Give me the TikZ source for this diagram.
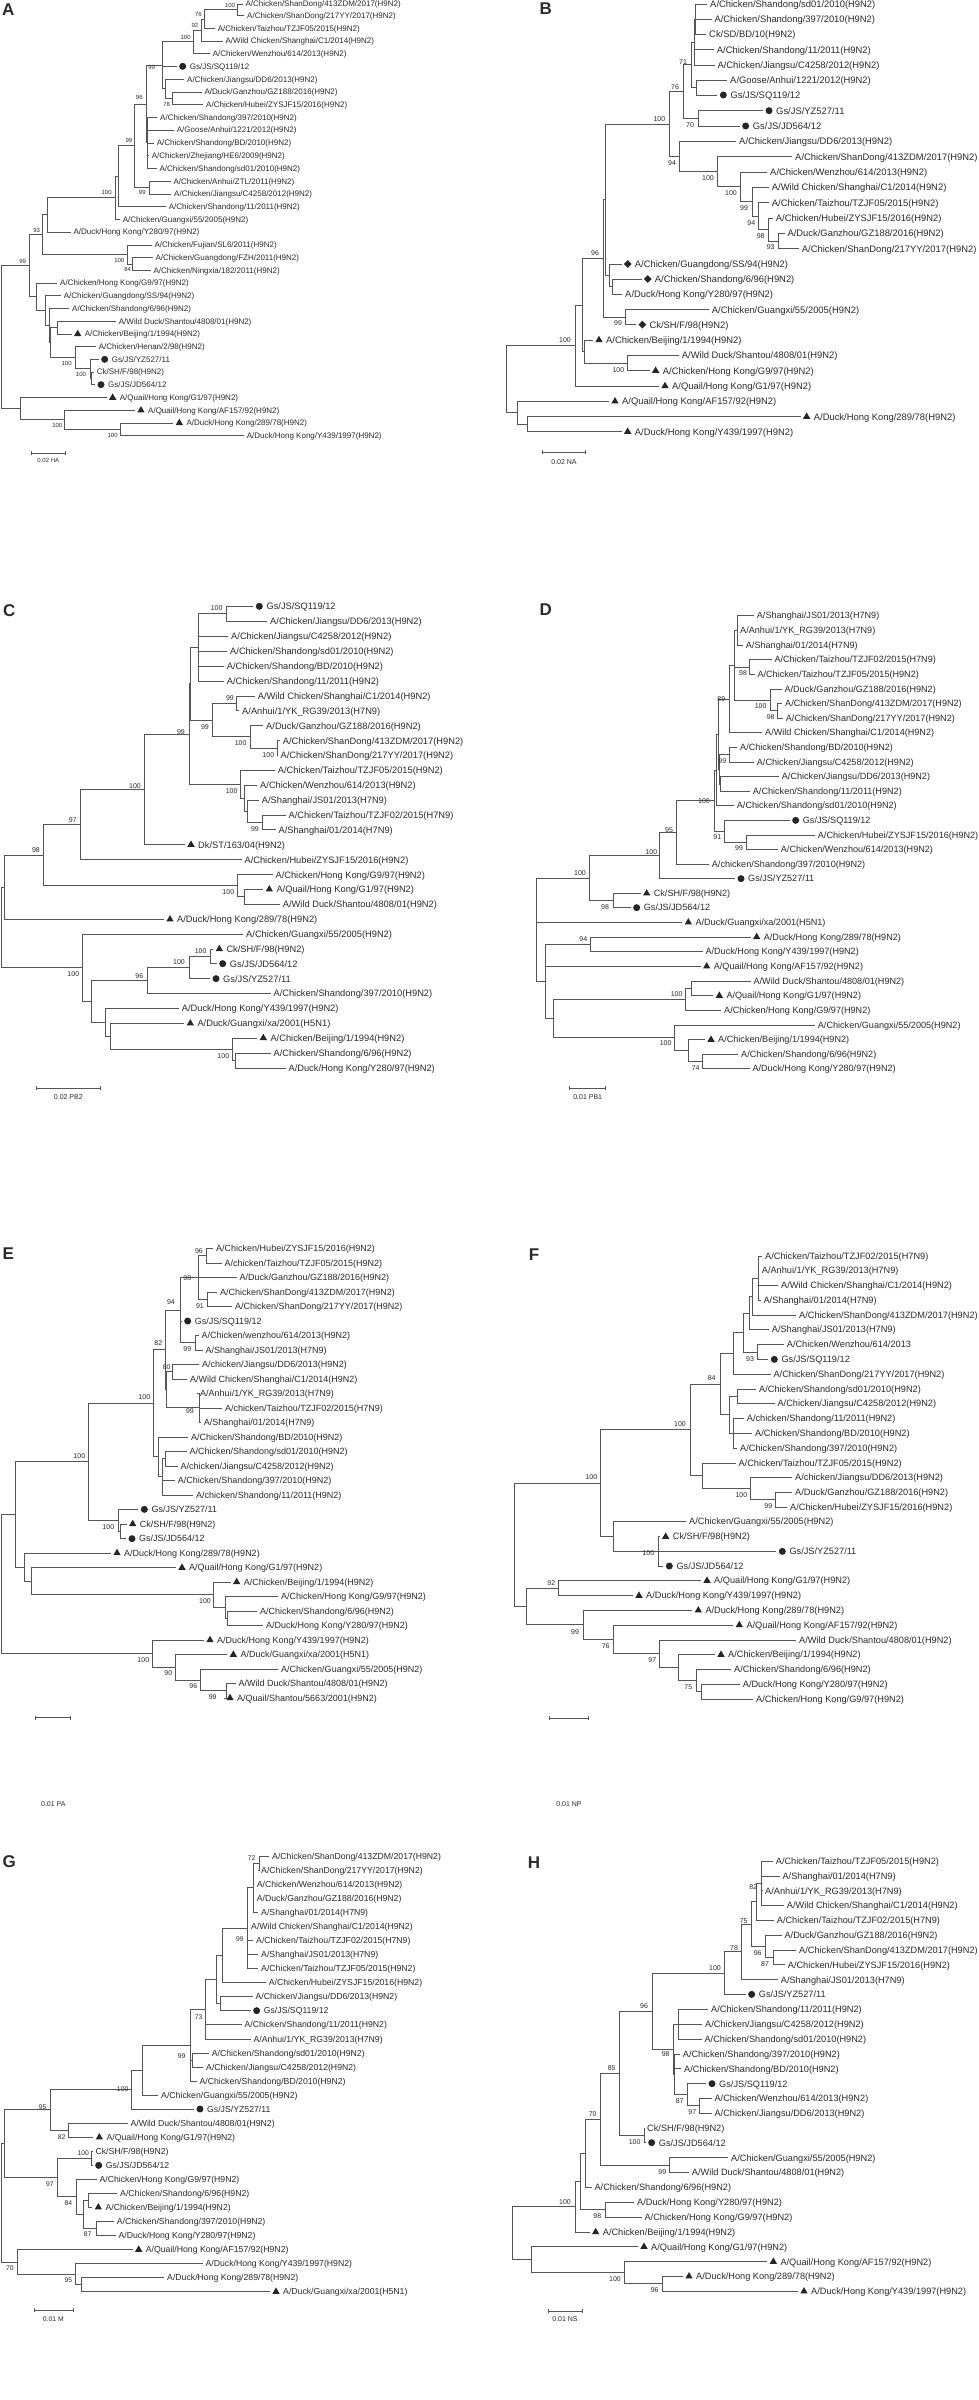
\documentclass[tikz,border=0pt]{standalone}
\usepackage{fontspec}
\setmainfont{Liberation Sans}
\usetikzlibrary{shapes.geometric}
\definecolor{txtc}{HTML}{2B2B2B}
\definecolor{lnc}{HTML}{555555}
\definecolor{mkcol}{HTML}{262626}
\newcounter{bsn}
\newcommand\PanelFonts[2]{\tikzset{
  lab/.style={anchor=base west,inner sep=0pt,text=txtc,font=\fontsize{#1pt}{#1pt}\selectfont,yshift=-0.36*#1pt},
  bsl/.style={inner sep=0pt,text=txtc,font=\fontsize{#2pt}{#2pt}\selectfont}}}
\newcommand\Lf[4]{\coordinate (#1) at (#2,#3); \node[lab] (#1t) at ([xshift=2.7pt]#1) {#4};}
\newcommand\Lfc[4]{\coordinate (#1) at (#2,#3); \node[mkc] (#1m) at ([xshift=6pt]#1) {}; \node[lab] (#1t) at ([xshift=13pt]#1) {#4};}
\newcommand\Lft[4]{\coordinate (#1) at (#2,#3); \node[mkt] (#1m) at ([xshift=6pt]#1) {}; \node[lab] (#1t) at ([xshift=13pt]#1) {#4};}
\newcommand\Lfd[4]{\coordinate (#1) at (#2,#3); \node[mkd] (#1m) at ([xshift=6pt]#1) {}; \node[lab] (#1t) at ([xshift=13pt]#1) {#4};}
\newcommand\Nd[3]{\coordinate (#1) at (#2,#3);}
\newcommand\Br[2]{\foreach \kid in {#2}{\draw[brn] (#1) |- (\kid);}}
\newcommand\Bs[3]{\stepcounter{bsn}\node[bsl] (bs\arabic{bsn}) at (#1,#2) {#3};}
\newcommand\Sb[7]{\coordinate (#1s1) at (#2,#4); \coordinate (#1s2) at (#3,#4);
  \draw[brn] (#1s1) -- (#1s2);
  \draw[brn] ([yshift=2pt]#1s1) -- ([yshift=-2pt]#1s1);
  \draw[brn] ([yshift=2pt]#1s2) -- ([yshift=-2pt]#1s2);
  \node[bsl] (#1sl) at (#5,#6) {#7};}
\tikzset{
  brn/.style={draw=lnc,line width=0.9pt},
  mkc/.style={circle,fill=mkcol,inner sep=0pt,minimum size=7pt},
  mkt/.style={regular polygon,regular polygon sides=3,fill=mkcol,inner sep=0pt,minimum size=8.5pt},
  mkd/.style={diamond,fill=mkcol,inner sep=0pt,minimum size=8pt},
  plet/.style={inner sep=0pt,text=txtc,font=\fontsize{17pt}{17pt}\selectfont\bfseries}}
\begin{document}
\begin{tikzpicture}
\fill[white] (0pt,0pt) rectangle (978pt,-2400pt);
\useasboundingbox (0pt,0pt) rectangle (978pt,-2400pt);
%%%%%%%%%%%%%%%%% A
\begin{scope}[x=0.33333pt,y=-0.33333pt]
\PanelFonts{8}{6}
\node[plet] (aLet) at (25,28) {A};
\Lf{a1}{728}{12}{A/Chicken/ShanDong/413ZDM/2017(H9N2)}
\Lf{a2}{733}{47}{A/Chicken/ShanDong/217YY/2017(H9N2)}
\Lf{a3}{645}{85}{A/Chicken/Taizhou/TZJF05/2015(H9N2)}
\Lf{a4}{668}{123}{A/Wild Chicken/Shanghai/C1/2014(H9N2)}
\Lf{a5}{630}{161}{A/Chicken/Wenzhou/614/2013(H9N2)}
\Lfc{a6}{530}{199}{Gs/JS/SQ119/12}
\Lf{a7}{553}{238}{A/Chicken/Jiangsu/DD6/2013(H9N2)}
\Lf{a8}{605}{276}{A/Duck/Ganzhou/GZ188/2016(H9N2)}
\Lf{a9}{610}{314}{A/Chicken/Hubei/ZYSJF15/2016(H9N2)}
\Lf{a10}{472}{352}{A/Chicken/Shandong/397/2010(H9N2)}
\Lf{a11}{522}{390}{A/Goose/Anhui/1221/2012(H9N2)}
\Lf{a12}{462}{429}{A/Chicken/Shandong/BD/2010(H9N2)}
\Lf{a13}{447}{467}{A/Chicken/Zhejiang/HE6/2009(H9N2)}
\Lf{a14}{470}{505}{A/Chicken/Shandong/sd01/2010(H9N2)}
\Lf{a15}{512}{544}{A/Chicken/Anhui/ZTL/2011(H9N2)}
\Lf{a16}{514}{582}{A/Chicken/Jiangsu/C4258/2012(H9N2)}
\Lf{a17}{498}{620}{A/Chicken/Shandong/11/2011(H9N2)}
\Lf{a18}{360}{658}{A/Chicken/Guangxi/55/2005(H9N2)}
\Lf{a19}{212}{696}{A/Duck/Hong Kong/Y280/97(H9N2)}
\Lf{a20}{455}{735}{A/Chicken/Fujian/SL6/2011(H9N2)}
\Lf{a21}{458}{773}{A/Chicken/Guangdong/FZH/2011(H9N2)}
\Lf{a22}{452}{811}{A/Chicken/Ningxia/182/2011(H9N2)}
\Lf{a23}{172}{849}{A/Chicken/Hong Kong/G9/97(H9N2)}
\Lf{a24}{183}{887}{A/Chicken/Guangdong/SS/94(H9N2)}
\Lf{a25}{208}{925}{A/Chicken/Shandong/6/96(H9N2)}
\Lf{a26}{348}{964}{A/Wild Duck/Shantou/4808/01(H9N2)}
\Lft{a27}{215}{1002}{A/Chicken/Beijing/1/1994(H9N2)}
\Lf{a28}{288}{1040}{A/Chicken/Henan/2/98(H9N2)}
\Lfc{a29}{296}{1078}{Gs/JS/YZ527/11}
\Lf{a30}{282}{1116}{Ck/SH/F/98(H9N2)}
\Lfc{a31}{285}{1154}{Gs/JS/JD564/12}
\Lft{a32}{320}{1193}{A/Quail/Hong Kong/G1/97(H9N2)}
\Lft{a33}{405}{1231}{A/Quail/Hong Kong/AF157/92(H9N2)}
\Lft{a34}{520}{1269}{A/Duck/Hong Kong/289/78(H9N2)}
\Lf{a35}{732}{1307}{A/Duck/Hong Kong/Y439/1997(H9N2)}
\Nd{aA}{712}{29.5} \Br{aA}{a1,a2}
\Nd{aB}{612}{57} \Br{aB}{aA,a3}
\Nd{aC}{603}{90} \Br{aC}{aB,a4}
\Nd{aD}{580}{125.5} \Br{aD}{aC,a5}
\Nd{aE}{518}{295} \Br{aE}{a8,a9}
\Nd{aF}{497}{266.5} \Br{aF}{a7,aE}
\Nd{aG}{487}{196} \Br{aG}{aD,a6,aF}
\Nd{aH}{442}{428.5} \Br{aH}{a10,a11,a12,a13,a14}
\Nd{aI}{440}{312} \Br{aI}{aG,aH}
\Nd{aJ}{447}{563} \Br{aJ}{a15,a16}
\Nd{aK}{403}{437.5} \Br{aK}{aI,aJ}
\Nd{aL}{355}{528.75} \Br{aL}{aK,a17}
\Nd{aM}{345}{593.4} \Br{aM}{aL,a18}
\Nd{aN}{143}{644.7} \Br{aN}{aM,a19}
\Nd{aO}{398}{792} \Br{aO}{a21,a22}
\Nd{aP}{383}{763.5} \Br{aP}{a20,aO}
\Nd{aQ}{128}{704} \Br{aQ}{aN,aP}
\Nd{aR}{172}{983} \Br{aR}{a26,a27}
\Nd{aS}{275}{1135} \Br{aS}{a30,a31}
\Nd{aT}{270}{1106.5} \Br{aT}{a29,aS}
\Nd{aU}{225}{1073} \Br{aU}{a28,aT}
\Nd{aV}{152}{1028} \Br{aV}{aR,aU}
\Nd{aW}{147}{976.5} \Br{aW}{a25,aV}
\Nd{aX}{135}{931.7} \Br{aX}{a24,aW}
\Nd{aY}{108}{890} \Br{aY}{a23,aX}
\Nd{aZ}{88}{797} \Br{aZ}{aQ,aY}
\Nd{ab}{362}{1288} \Br{ab}{a34,a35}
\Nd{ac}{193}{1259.5} \Br{ac}{a33,ab}
\Nd{ad}{62}{1226} \Br{ad}{a32,ac}
\Nd{ar}{5}{1011} \Br{ar}{aZ,ad}
\Bs{690}{15}{100} \Bs{595}{43}{76} \Bs{585}{77}{92} \Bs{557}{112}{100}
\Bs{455}{203}{99} \Bs{500}{312}{78} \Bs{418}{293}{96} \Bs{387}{421}{99}
\Bs{427}{578}{99} \Bs{320}{578}{100} \Bs{110}{690}{93} \Bs{358}{780}{100}
\Bs{383}{808}{84} \Bs{68}{785}{99} \Bs{200}{1090}{100} \Bs{243}{1124}{100}
\Bs{172}{1277}{100} \Bs{338}{1305}{100}
\Sb{a}{93}{197}{1360}{145}{1382}{0.02 HA}
\end{scope}
%%%%%%%%%%%%%%%%% B
\begin{scope}[shift={(489pt,0pt)},x=0.33333pt,y=-0.33333pt]
\PanelFonts{9.4}{7}
\node[plet] (bLet) at (170,25) {B};
\Lf{b1}{655}{12}{A/Chicken/Shandong/sd01/2010(H9N2)}
\Lf{b2}{668}{57}{A/Chicken/Shandong/397/2010(H9N2)}
\Lf{b3}{652}{103}{Ck/SD/BD/10(H9N2)}
\Lf{b4}{675}{149}{A/Chicken/Shandong/11/2011(H9N2)}
\Lf{b5}{677}{195}{A/Chicken/Jiangsu/C4258/2012(H9N2)}
\Lf{b6}{715}{241}{A/Goose/Anhui/1221/2012(H9N2)}
\Lfc{b7}{685}{285}{Gs/JS/SQ119/12}
\Lfc{b8}{822}{332}{Gs/JS/YZ527/11}
\Lfc{b9}{752}{378}{Gs/JS/JD564/12}
\Lf{b10}{742}{424}{A/Chicken/Jiangsu/DD6/2013(H9N2)}
\Lf{b11}{910}{470}{A/Chicken/ShanDong/413ZDM/2017(H9N2)}
\Lf{b12}{835}{516}{A/Chicken/Wenzhou/614/2013(H9N2)}
\Lf{b13}{840}{562}{A/Wild Chicken/Shanghai/C1/2014(H9N2)}
\Lf{b14}{840}{608}{A/Chicken/Taizhou/TZJF05/2015(H9N2)}
\Lf{b15}{852}{654}{A/Chicken/Hubei/ZYSJF15/2016(H9N2)}
\Lf{b16}{887}{700}{A/Duck/Ganzhou/GZ188/2016(H9N2)}
\Lf{b17}{930}{746}{A/Chicken/ShanDong/217YY/2017(H9N2)}
\Lfd{b18}{398}{792}{A/Chicken/Guangdong/SS/94(H9N2)}
\Lfd{b19}{458}{837}{A/Chicken/Shandong/6/96(H9N2)}
\Lf{b20}{400}{883}{A/Duck/Hong Kong/Y280/97(H9N2)}
\Lf{b21}{660}{929}{A/Chicken/Guangxi/55/2005(H9N2)}
\Lfd{b22}{442}{974}{Ck/SH/F/98(H9N2)}
\Lft{b23}{312}{1020}{A/Chicken/Beijing/1/1994(H9N2)}
\Lf{b24}{570}{1066}{A/Wild Duck/Shantou/4808/01(H9N2)}
\Lft{b25}{482}{1112}{A/Chicken/Hong Kong/G9/97(H9N2)}
\Lft{b26}{510}{1158}{A/Quail/Hong Kong/G1/97(H9N2)}
\Lft{b27}{360}{1204}{A/Quail/Hong Kong/AF157/92(H9N2)}
\Lft{b28}{935}{1250}{A/Duck/Hong Kong/289/78(H9N2)}
\Lft{b29}{398}{1295}{A/Duck/Hong Kong/Y439/1997(H9N2)}
\Nd{bA}{620}{57.5} \Br{bA}{b1,b2,b3}
\Nd{bB}{615}{126} \Br{bB}{bA,b4,b5}
\Nd{bC}{622}{263} \Br{bC}{b6,b7}
\Nd{bD}{608}{194.5} \Br{bD}{bB,bC}
\Nd{bE}{627}{355} \Br{bE}{b8,b9}
\Nd{bF}{582}{275} \Br{bF}{bD,bE}
\Nd{bG}{868}{723} \Br{bG}{b16,b17}
\Nd{bH}{838}{688.5} \Br{bH}{b15,bG}
\Nd{bI}{808}{648} \Br{bI}{b14,bH}
\Nd{bJ}{790}{605} \Br{bJ}{b13,bI}
\Nd{bK}{755}{560.5} \Br{bK}{b12,bJ}
\Nd{bL}{686}{515} \Br{bL}{b11,bK}
\Nd{bM}{572}{469.5} \Br{bM}{b10,bL}
\Nd{bN}{540}{372} \Br{bN}{bF,bM}
\Nd{bO}{370}{860} \Br{bO}{b19,b20}
\Nd{bP}{360}{826} \Br{bP}{b18,bO}
\Nd{bQ}{348}{599} \Br{bQ}{bN,bP}
\Nd{bR}{408}{951.5} \Br{bR}{b21,b22}
\Nd{bS}{342}{775} \Br{bS}{bQ,bR}
\Nd{bT}{415}{1089} \Br{bT}{b24,b25}
\Nd{bU}{285}{1054.5} \Br{bU}{b23,bT}
\Nd{bV}{280}{915} \Br{bV}{bS,bU}
\Nd{bW}{258}{1036.5} \Br{bW}{bV,b26}
\Nd{bX}{115}{1272.5} \Br{bX}{b28,b29}
\Nd{bY}{85}{1238} \Br{bY}{b27,bX}
\Nd{br}{52}{1137} \Br{br}{bW,bY}
\Bs{582}{185}{71} \Bs{558}{262}{76} \Bs{511}{358}{100} \Bs{603}{376}{70}
\Bs{549}{490}{94} \Bs{657}{535}{100} \Bs{726}{580}{100} \Bs{765}{625}{99}
\Bs{787}{668}{94} \Bs{815}{707}{98} \Bs{845}{742}{93} \Bs{318}{760}{96}
\Bs{387}{970}{99} \Bs{228}{1020}{100} \Bs{388}{1110}{100}
\Sb{b}{160}{290}{1357}{225}{1385}{0.02 NA}
\end{scope}
%%%%%%%%%%%%%%%%% C
\begin{scope}[shift={(0pt,-600pt)},x=0.33333pt,y=-0.33333pt]
\PanelFonts{9.3}{7}
\node[plet] (cLet) at (28,32) {C};
\Lfc{c1}{760}{19}{Gs/JS/SQ119/12}
\Lf{c2}{802}{64}{A/Chicken/Jiangsu/DD6/2013(H9N2)}
\Lf{c3}{685}{109}{A/Chicken/Jiangsu/C4258/2012(H9N2)}
\Lf{c4}{682}{154}{A/Chicken/Shandong/sd01/2010(H9N2)}
\Lf{c5}{672}{198}{A/Chicken/Shandong/BD/2010(H9N2)}
\Lf{c6}{672}{243}{A/Chicken/Shandong/11/2011(H9N2)}
\Lf{c7}{765}{288}{A/Wild Chicken/Shanghai/C1/2014(H9N2)}
\Lf{c8}{718}{332}{A/Anhui/1/YK\_RG39/2013(H7N9)}
\Lf{c9}{790}{377}{A/Duck/Ganzhou/GZ188/2016(H9N2)}
\Lf{c10}{840}{422}{A/Chicken/ShanDong/413ZDM/2017(H9N2)}
\Lf{c11}{833}{466}{A/Chicken/ShanDong/217YY/2017(H9N2)}
\Lf{c12}{825}{511}{A/Chicken/Taizhou/TZJF05/2015(H9N2)}
\Lf{c13}{772}{556}{A/Chicken/Wenzhou/614/2013(H9N2)}
\Lf{c14}{777}{600}{A/Shanghai/JS01/2013(H7N9)}
\Lf{c15}{857}{645}{A/Chicken/Taizhou/TZJF02/2015(H7N9)}
\Lf{c16}{827}{689}{A/Shanghai/01/2014(H7N9)}
\Lft{c17}{555}{734}{Dk/ST/163/04(H9N2)}
\Lf{c18}{725}{779}{A/Chicken/Hubei/ZYSJF15/2016(H9N2)}
\Lf{c19}{818}{824}{A/Chicken/Hong Kong/G9/97(H9N2)}
\Lft{c20}{790}{868}{A/Quail/Hong Kong/G1/97(H9N2)}
\Lf{c21}{840}{913}{A/Wild Duck/Shantou/4808/01(H9N2)}
\Lft{c22}{492}{958}{A/Duck/Hong Kong/289/78(H9N2)}
\Lf{c23}{730}{1002}{A/Chicken/Guangxi/55/2005(H9N2)}
\Lft{c24}{640}{1047}{Ck/SH/F/98(H9N2)}
\Lfc{c25}{650}{1091}{Gs/JS/JD564/12}
\Lfc{c26}{630}{1136}{Gs/JS/YZ527/11}
\Lf{c27}{812}{1180}{A/Chicken/Shandong/397/2010(H9N2)}
\Lf{c28}{537}{1225}{A/Duck/Hong Kong/Y439/1997(H9N2)}
\Lft{c29}{553}{1270}{A/Duck/Guangxi/xa/2001(H5N1)}
\Lft{c30}{772}{1314}{A/Chicken/Beijing/1/1994(H9N2)}
\Lf{c31}{812}{1359}{A/Chicken/Shandong/6/96(H9N2)}
\Lf{c32}{857}{1404}{A/Duck/Hong Kong/Y280/97(H9N2)}
\Nd{cA}{680}{41.5} \Br{cA}{c1,c2}
\Nd{cB}{595}{142} \Br{cB}{cA,c3,c4,c5,c6}
\Nd{cC}{710}{310} \Br{cC}{c7,c8}
\Nd{cD}{832}{444} \Br{cD}{c10,c11}
\Nd{cE}{750}{410.5} \Br{cE}{c9,cD}
\Nd{cF}{637}{360} \Br{cF}{cC,cE}
\Nd{cG}{572}{251} \Br{cG}{cB,cF}
\Nd{cH}{787}{667} \Br{cH}{c15,c16}
\Nd{cI}{742}{633.5} \Br{cI}{c14,cH}
\Nd{cJ}{732}{595} \Br{cJ}{c13,cI}
\Nd{cK}{720}{553} \Br{cK}{c12,cJ}
\Nd{cL}{568}{402} \Br{cL}{cG,cK}
\Nd{cM}{433}{568} \Br{cM}{cL,c17}
\Nd{cN}{242}{673.5} \Br{cN}{cM,c18}
\Nd{cO}{732}{890.5} \Br{cO}{c20,c21}
\Nd{cP}{712}{857} \Br{cP}{c19,cO}
\Nd{cQ}{130}{765} \Br{cQ}{cN,cP}
\Nd{cR}{12}{861.5} \Br{cR}{cQ,c22}
\Nd{cS}{630}{1069} \Br{cS}{c24,c25}
\Nd{cT}{567}{1102.5} \Br{cT}{cS,c26}
\Nd{cU}{442}{1141} \Br{cU}{cT,c27}
\Nd{cV}{706}{1381.5} \Br{cV}{c31,c32}
\Nd{cW}{698}{1348} \Br{cW}{c30,cV}
\Nd{cX}{332}{1309} \Br{cX}{c29,cW}
\Nd{cY}{317}{1267} \Br{cY}{c28,cX}
\Nd{cZ}{273}{1204} \Br{cZ}{cU,cY}
\Nd{ca}{247}{1103} \Br{ca}{c23,cZ}
\Nd{cr}{5}{982} \Br{cr}{cR,ca}
\Bs{650}{25}{100} \Bs{690}{295}{99} \Bs{615}{380}{99} \Bs{543}{397}{99}
\Bs{722}{430}{100} \Bs{805}{464}{100} \Bs{695}{572}{100} \Bs{405}{557}{100}
\Bs{765}{686}{99} \Bs{218}{660}{97} \Bs{108}{750}{98} \Bs{685}{876}{100}
\Bs{602}{1053}{100} \Bs{537}{1087}{100} \Bs{418}{1127}{96} \Bs{220}{1122}{100}
\Bs{670}{1368}{100}
\Sb{c}{108}{300}{1465}{205}{1490}{0.02 PB2}
\end{scope}
%%%%%%%%%%%%%%%%% D
\begin{scope}[shift={(489pt,-600pt)},x=0.33333pt,y=-0.33333pt]
\PanelFonts{9.1}{7}
\node[plet] (dLet) at (170,28) {D};
\Lf{d1}{795}{47}{A/Shanghai/JS01/2013(H7N9)}
\Lf{d2}{745}{91}{A/Anhui/1/YK\_RG39/2013(H7N9)}
\Lf{d3}{762}{135}{A/Shanghai/01/2014(H7N9)}
\Lf{d4}{848}{179}{A/Chicken/Taizhou/TZJF02/2015(H7N9)}
\Lf{d5}{797}{223}{A/Chicken/Taizhou/TZJF05/2015(H9N2)}
\Lf{d6}{878}{267}{A/Duck/Ganzhou/GZ188/2016(H9N2)}
\Lf{d7}{880}{311}{A/Chicken/ShanDong/413ZDM/2017(H9N2)}
\Lf{d8}{882}{354}{A/Chicken/ShanDong/217YY/2017(H9N2)}
\Lf{d9}{820}{398}{A/Wild Chicken/Shanghai/C1/2014(H9N2)}
\Lf{d10}{745}{442}{A/Chicken/Shandong/BD/2010(H9N2)}
\Lf{d11}{795}{486}{A/Chicken/Jiangsu/C4258/2012(H9N2)}
\Lf{d12}{870}{530}{A/Chicken/Jiangsu/DD6/2013(H9N2)}
\Lf{d13}{783}{574}{A/Chicken/Shandong/11/2011(H9N2)}
\Lf{d14}{735}{617}{A/Chicken/Shandong/sd01/2010(H9N2)}
\Lfc{d15}{902}{661}{Gs/JS/SQ119/12}
\Lf{d16}{978}{705}{A/Chicken/Hubei/ZYSJF15/2016(H9N2)}
\Lf{d17}{867}{749}{A/Chicken/Wenzhou/614/2013(H9N2)}
\Lf{d18}{660}{793}{A/chicken/Shandong/397/2010(H9N2)}
\Lfc{d19}{738}{836}{Gs/JS/YZ527/11}
\Lft{d20}{455}{880}{Ck/SH/F/98(H9N2)}
\Lfc{d21}{425}{923}{Gs/JS/JD564/12}
\Lft{d22}{580}{967}{A/Duck/Guangxi/xa/2001(H5N1)}
\Lft{d23}{785}{1011}{A/Duck/Hong Kong/289/78(H9N2)}
\Lf{d24}{641}{1055}{A/Duck/Hong Kong/Y439/1997(H9N2)}
\Lft{d25}{635}{1099}{A/Quail/Hong Kong/AF157/92(H9N2)}
\Lf{d26}{785}{1143}{A/Wild Duck/Shantou/4808/01(H9N2)}
\Lft{d27}{673}{1187}{A/Quail/Hong Kong/G1/97(H9N2)}
\Lf{d28}{697}{1231}{A/Chicken/Hong Kong/G9/97(H9N2)}
\Lf{d29}{978}{1275}{A/Chicken/Guangxi/55/2005(H9N2)}
\Lft{d30}{648}{1319}{A/Chicken/Beijing/1/1994(H9N2)}
\Lf{d31}{748}{1362}{A/Chicken/Shandong/6/96(H9N2)}
\Lf{d32}{782}{1406}{A/Duck/Hong Kong/Y280/97(H9N2)}
\Nd{dA}{745}{91} \Br{dA}{d1,d2,d3}
\Nd{dB}{782}{201} \Br{dB}{d4,d5}
\Nd{dC}{865}{332.5} \Br{dC}{d7,d8}
\Nd{dD}{845}{300} \Br{dD}{d6,dC}
\Nd{dE}{735}{195.5} \Br{dE}{dA,dB,dD}
\Nd{dF}{720}{297} \Br{dF}{dE,d9}
\Nd{dG}{722}{464} \Br{dG}{d10,d11}
\Nd{dH}{693}{552} \Br{dH}{d12,d13}
\Nd{dI}{690}{508} \Br{dI}{dG,dH}
\Nd{dJ}{688}{402.5} \Br{dJ}{dF,dI}
\Nd{dK}{683}{510} \Br{dK}{dJ,d14}
\Nd{dL}{772}{727} \Br{dL}{d16,d17}
\Nd{dM}{707}{694} \Br{dM}{d15,dL}
\Nd{dN}{675}{602} \Br{dN}{dK,dM}
\Nd{dO}{562}{697.5} \Br{dO}{dN,d18}
\Nd{dP}{512}{767} \Br{dP}{dO,d19}
\Nd{dQ}{372}{901.5} \Br{dQ}{d20,d21}
\Nd{dR}{300}{834} \Br{dR}{dP,dQ}
\Nd{dS}{305}{1033} \Br{dS}{d23,d24}
\Nd{dT}{607}{1165} \Br{dT}{d26,d27}
\Nd{dU}{590}{1198} \Br{dU}{dT,d28}
\Nd{dV}{640}{1384} \Br{dV}{d31,d32}
\Nd{dW}{598}{1351.5} \Br{dW}{d30,dV}
\Nd{dX}{557}{1313} \Br{dX}{d29,dW}
\Nd{dY}{193}{1255.5} \Br{dY}{dU,dX}
\Nd{dZ}{168}{1144} \Br{dZ}{dS,d25,dY}
\Nd{dr}{142}{989} \Br{dr}{dR,d22,dZ}
\Bs{762}{220}{98} \Bs{697}{296}{89} \Bs{815}{318}{100} \Bs{845}{350}{98}
\Bs{700}{484}{99} \Bs{645}{602}{100} \Bs{540}{690}{95} \Bs{685}{712}{91}
\Bs{750}{745}{99} \Bs{487}{755}{100} \Bs{273}{820}{100} \Bs{348}{920}{98}
\Bs{283}{1017}{94} \Bs{563}{1183}{100} \Bs{530}{1330}{100} \Bs{620}{1403}{74}
\Sb{d}{242}{350}{1465}{296}{1490}{0.01 PB1}
\end{scope}
%%%%%%%%%%%%%%%%% E
\begin{scope}[shift={(0pt,-1200pt)},x=0.33333pt,y=-0.33333pt]
\PanelFonts{9}{7}
\node[plet] (eLet) at (25,160) {E};
\Lf{e1}{640}{145}{A/Chicken/Hubei/ZYSJF15/2016(H9N2)}
\Lf{e2}{665}{189}{A/chicken/Taizhou/TZJF05/2015(H9N2)}
\Lf{e3}{710}{232}{A/Duck/Ganzhou/GZ188/2016(H9N2)}
\Lf{e4}{652}{276}{A/Chicken/ShanDong/413ZDM/2017(H9N2)}
\Lf{e5}{697}{320}{A/Chicken/ShanDong/217YY/2017(H9N2)}
\Lfc{e6}{545}{363}{Gs/JS/SQ119/12}
\Lf{e7}{596}{406}{A/Chicken/wenzhou/614/2013(H9N2)}
\Lf{e8}{608}{450}{A/Shanghai/JS01/2013(H7N9)}
\Lf{e9}{598}{493}{A/chicken/Jiangsu/DD6/2013(H9N2)}
\Lf{e10}{562}{537}{A/Wild Chicken/Shanghai/C1/2014(H9N2)}
\Lf{e11}{592}{580}{A/Anhui/1/YK\_RG39/2013(H7N9)}
\Lf{e12}{667}{624}{A/chicken/Taizhou/TZJF02/2015(H7N9)}
\Lf{e13}{603}{667}{A/Shanghai/01/2014(H7N9)}
\Lf{e14}{565}{711}{A/Chicken/Shandong/BD/2010(H9N2)}
\Lf{e15}{560}{754}{A/Chicken/Shandong/sd01/2010(H9N2)}
\Lf{e16}{533}{798}{A/chicken/Jiangsu/C4258/2012(H9N2)}
\Lf{e17}{525}{841}{A/Chicken/Shandong/397/2010(H9N2)}
\Lf{e18}{580}{885}{A/chicken/Shandong/11/2011(H9N2)}
\Lfc{e19}{415}{928}{Gs/JS/YZ527/11}
\Lft{e20}{380}{972}{Ck/SH/F/98(H9N2)}
\Lfc{e21}{378}{1016}{Gs/JS/JD564/12}
\Lft{e22}{333}{1059}{A/Duck/Hong Kong/289/78(H9N2)}
\Lft{e23}{528}{1103}{A/Quail/Hong Kong/G1/97(H9N2)}
\Lft{e24}{692}{1146}{A/Chicken/Beijing/1/1994(H9N2)}
\Lf{e25}{835}{1190}{A/Chicken/Hong Kong/G9/97(H9N2)}
\Lf{e26}{772}{1233}{A/Chicken/Shandong/6/96(H9N2)}
\Lf{e27}{790}{1277}{A/Duck/Hong Kong/Y280/97(H9N2)}
\Lft{e28}{612}{1320}{A/Duck/Hong Kong/Y439/1997(H9N2)}
\Lft{e29}{682}{1364}{A/Duck/Guangxi/xa/2001(H5N1)}
\Lf{e30}{835}{1407}{A/Chicken/Guangxi/55/2005(H9N2)}
\Lf{e31}{707}{1451}{A/Wild Duck/Shantou/4808/01(H9N2)}
\Lft{e32}{672}{1494}{A/Quail/Shantou/5663/2001(H9N2)}
\Nd{eA}{620}{167} \Br{eA}{e1,e2}
\Nd{eB}{622}{298} \Br{eB}{e4,e5}
\Nd{eC}{595}{232.5} \Br{eC}{eA,e3,eB}
\Nd{eD}{585}{428} \Br{eD}{e7,e8}
\Nd{eE}{540}{330} \Br{eE}{eC,e6,eD}
\Nd{eF}{518}{515} \Br{eF}{e9,e10}
\Nd{eG}{597}{623.5} \Br{eG}{e11,e12,e13}
\Nd{eH}{500}{569} \Br{eH}{eF,eG}
\Nd{eI}{497}{449.5} \Br{eI}{eE,eH}
\Nd{eJ}{497}{776} \Br{eJ}{e15,e16}
\Nd{eK}{487}{830.5} \Br{eK}{eJ,e17,e18}
\Nd{eL}{475}{770.75} \Br{eL}{e14,eK}
\Nd{eM}{460}{610} \Br{eM}{eI,eL}
\Nd{eN}{362}{994} \Br{eN}{e20,e21}
\Nd{eO}{355}{961} \Br{eO}{e19,eN}
\Nd{eP}{265}{785.5} \Br{eP}{eM,eO}
\Nd{eQ}{682}{1255} \Br{eQ}{e26,e27}
\Nd{eR}{675}{1222.5} \Br{eR}{e25,eQ}
\Nd{eS}{640}{1184} \Br{eS}{e24,eR}
\Nd{eT}{95}{1143.5} \Br{eT}{e23,eS}
\Nd{eU}{72}{1101} \Br{eU}{e22,eT}
\Nd{eV}{45}{943} \Br{eV}{eP,eU}
\Nd{eW}{680}{1472.5} \Br{eW}{e31,e32}
\Nd{eX}{600}{1440} \Br{eX}{e30,eW}
\Nd{eY}{527}{1402} \Br{eY}{e29,eX}
\Nd{eZ}{457}{1361} \Br{eZ}{e28,eY}
\Nd{er}{5}{1152} \Br{er}{eV,eZ}
\Bs{597}{152}{96} \Bs{562}{233}{98} \Bs{513}{307}{94} \Bs{600}{317}{91}
\Bs{562}{447}{99} \Bs{475}{428}{82} \Bs{500}{500}{80} \Bs{570}{632}{99}
\Bs{433}{590}{100} \Bs{238}{768}{100} \Bs{325}{980}{100} \Bs{615}{1203}{100}
\Bs{430}{1380}{100} \Bs{505}{1420}{90} \Bs{580}{1458}{96} \Bs{638}{1492}{99}
\Sb{e}{105}{212}{1553}{160}{1812}{0.01 PA}
\end{scope}
%%%%%%%%%%%%%%%%% F
\begin{scope}[shift={(489pt,-1200pt)},x=0.33333pt,y=-0.33333pt]
\PanelFonts{9.2}{7}
\node[plet] (fLet) at (135,165) {F};
\Lf{f1}{820}{168}{A/Chicken/Taizhou/TZJF02/2015(H7N9)}
\Lf{f2}{810}{212}{A/Anhui/1/YK\_RG39/2013(H7N9)}
\Lf{f3}{868}{257}{A/Wild Chicken/Shanghai/C1/2014(H9N2)}
\Lf{f4}{815}{301}{A/Shanghai/01/2014(H7N9)}
\Lf{f5}{922}{345}{A/Chicken/ShanDong/413ZDM/2017(H9N2)}
\Lf{f6}{840}{389}{A/Shanghai/JS01/2013(H7N9)}
\Lf{f7}{885}{434}{A/Chicken/Wenzhou/614/2013}
\Lfc{f8}{838}{478}{Gs/JS/SQ119/12}
\Lf{f9}{845}{522}{A/Chicken/ShanDong/217YY/2017(H9N2)}
\Lf{f10}{802}{567}{A/Chicken/Shandong/sd01/2010(H9N2)}
\Lf{f11}{857}{611}{A/Chicken/Jiangsu/C4258/2012(H9N2)}
\Lf{f12}{765}{656}{A/chicken/Shandong/11/2011(H9N2)}
\Lf{f13}{790}{700}{A/Chicken/Shandong/BD/2010(H9N2)}
\Lf{f14}{745}{744}{A/Chicken/Shandong/397/2010(H9N2)}
\Lf{f15}{740}{789}{A/Chicken/Taizhou/TZJF05/2015(H9N2)}
\Lf{f16}{910}{832}{A/chicken/Jiangsu/DD6/2013(H9N2)}
\Lf{f17}{910}{877}{A/Duck/Ganzhou/GZ188/2016(H9N2)}
\Lf{f18}{895}{921}{A/Chicken/Hubei/ZYSJF15/2016(H9N2)}
\Lf{f19}{592}{965}{A/Chicken/Guangxi/55/2005(H9N2)}
\Lft{f20}{512}{1010}{Ck/SH/F/98(H9N2)}
\Lfc{f21}{862}{1054}{Gs/JS/YZ527/11}
\Lfc{f22}{523}{1098}{Gs/JS/JD564/12}
\Lft{f23}{636}{1142}{A/Quail/Hong Kong/G1/97(H9N2)}
\Lft{f24}{432}{1187}{A/Duck/Hong Kong/Y439/1997(H9N2)}
\Lft{f25}{610}{1231}{A/Duck/Hong Kong/289/78(H9N2)}
\Lft{f26}{733}{1275}{A/Quail/Hong Kong/AF157/92(H9N2)}
\Lf{f27}{922}{1320}{A/Wild Duck/Shantou/4808/01(H9N2)}
\Lft{f28}{678}{1364}{A/Chicken/Beijing/1/1994(H9N2)}
\Lf{f29}{727}{1408}{A/Chicken/Shandong/6/96(H9N2)}
\Lf{f30}{753}{1452}{A/Duck/Hong Kong/Y280/97(H9N2)}
\Lf{f31}{793}{1497}{A/Chicken/Hong Kong/G9/97(H9N2)}
\Nd{fA}{807}{234.5} \Br{fA}{f1,f2,f3,f4}
\Nd{fB}{790}{290} \Br{fB}{fA,f5}
\Nd{fC}{782}{339.5} \Br{fC}{fB,f6}
\Nd{fD}{805}{456} \Br{fD}{f7,f8}
\Nd{fE}{762}{398} \Br{fE}{fC,fD}
\Nd{fF}{733}{460} \Br{fF}{fE,f9}
\Nd{fG}{745}{589} \Br{fG}{f10,f11}
\Nd{fH}{733}{700} \Br{fH}{f12,f13,f14}
\Nd{fI}{722}{644.5} \Br{fI}{fG,fH}
\Nd{fJ}{693}{552} \Br{fJ}{fF,fI}
\Nd{fK}{860}{899} \Br{fK}{f17,f18}
\Nd{fL}{785}{865.5} \Br{fL}{f16,fK}
\Nd{fM}{640}{827} \Br{fM}{f15,fL}
\Nd{fN}{603}{689.5} \Br{fN}{fJ,fM}
\Nd{fO}{507}{1054} \Br{fO}{f20,f21,f22}
\Nd{fP}{372}{1009.5} \Br{fP}{f19,fO}
\Nd{fQ}{333}{849.5} \Br{fQ}{fN,fP}
\Nd{fR}{208}{1164.5} \Br{fR}{f23,f24}
\Nd{fS}{638}{1474.5} \Br{fS}{f30,f31}
\Nd{fT}{622}{1441} \Br{fT}{f29,fS}
\Nd{fU}{568}{1402.5} \Br{fU}{f28,fT}
\Nd{fV}{512}{1361} \Br{fV}{f27,fU}
\Nd{fW}{372}{1318} \Br{fW}{f26,fV}
\Nd{fX}{282}{1274.5} \Br{fX}{f25,fW}
\Nd{fY}{112}{1219.5} \Br{fY}{fR,fX}
\Nd{fr}{75}{1034.5} \Br{fr}{fQ,fY}
\Bs{668}{535}{84} \Bs{783}{477}{93} \Bs{573}{672}{100} \Bs{307}{830}{100}
\Bs{757}{885}{100} \Bs{838}{918}{99} \Bs{478}{1060}{100} \Bs{187}{1150}{92}
\Bs{258}{1295}{99} \Bs{350}{1337}{76} \Bs{490}{1380}{97} \Bs{598}{1462}{75}
\Sb{f}{180}{297}{1555}{240}{1812}{0.01 NP}
\end{scope}
%%%%%%%%%%%%%%%%% G
\begin{scope}[shift={(0pt,-1800pt)},x=0.33333pt,y=-0.33333pt]
\PanelFonts{8.7}{6.8}
\node[plet] (gLet) at (28,185) {G};
\Lf{g1}{808}{168}{A/Chicken/ShanDong/413ZDM/2017(H9N2)}
\Lf{g2}{775}{211}{A/Chicken/ShanDong/217YY/2017(H9N2)}
\Lf{g3}{762}{253}{A/Chicken/Wenzhou/614/2013(H9N2)}
\Lf{g4}{762}{295}{A/Duck/Ganzhou/GZ188/2016(H9N2)}
\Lf{g5}{775}{337}{A/Shanghai/01/2014(H7N9)}
\Lf{g6}{745}{380}{A/Wild Chicken/Shanghai/C1/2014(H9N2)}
\Lf{g7}{760}{422}{A/Chicken/Taizhou/TZJF02/2015(H7N9)}
\Lf{g8}{775}{464}{A/Shanghai/JS01/2013(H7N9)}
\Lf{g9}{775}{506}{A/Chicken/Taizhou/TZJF05/2015(H9N2)}
\Lf{g10}{798}{548}{A/Chicken/Hubei/ZYSJF15/2016(H9N2)}
\Lf{g11}{758}{590}{A/Chicken/Jiangsu/DD6/2013(H9N2)}
\Lfc{g12}{752}{632}{Gs/JS/SQ119/12}
\Lf{g13}{725}{674}{A/Chicken/Shandong/11/2011(H9N2)}
\Lf{g14}{752}{717}{A/Anhui/1/YK\_RG39/2013(H7N9)}
\Lf{g15}{627}{759}{A/Chicken/Shandong/sd01/2010(H9N2)}
\Lf{g16}{610}{801}{A/Chicken/Jiangsu/C4258/2012(H9N2)}
\Lf{g17}{590}{843}{A/Chicken/Shandong/BD/2010(H9N2)}
\Lf{g18}{475}{885}{A/Chicken/Guangxi/55/2005(H9N2)}
\Lfc{g19}{582}{927}{Gs/JS/YZ527/11}
\Lf{g20}{383}{969}{A/Wild Duck/Shantou/4808/01(H9N2)}
\Lft{g21}{280}{1012}{A/Quail/Hong Kong/G1/97(H9N2)}
\Lf{g22}{278}{1054}{Ck/SH/F/98(H9N2)}
\Lfc{g23}{278}{1096}{Gs/JS/JD564/12}
\Lf{g24}{290}{1138}{A/Chicken/Hong Kong/G9/97(H9N2)}
\Lf{g25}{352}{1180}{A/Chicken/Shandong/6/96(H9N2)}
\Lft{g26}{277}{1222}{A/Chicken/Beijing/1/1994(H9N2)}
\Lf{g27}{342}{1265}{A/Chicken/Shandong/397/2010(H9N2)}
\Lf{g28}{347}{1307}{A/Duck/Hong Kong/Y280/97(H9N2)}
\Lft{g29}{398}{1349}{A/Quail/Hong Kong/AF157/92(H9N2)}
\Lf{g30}{608}{1391}{A/Duck/Hong Kong/Y439/1997(H9N2)}
\Lf{g31}{493}{1433}{A/Duck/Hong Kong/289/78(H9N2)}
\Lft{g32}{810}{1475}{A/Duck/Guangxi/xa/2001(H5N1)}
\Nd{gA}{778}{189.5} \Br{gA}{g1,g2}
\Nd{gB}{760}{263} \Br{gB}{gA,g3,g4,g5}
\Nd{gC}{742}{384.5} \Br{gC}{gB,g6,g7,g8,g9}
\Nd{gD}{668}{466} \Br{gD}{gC,g10}
\Nd{gE}{662}{611} \Br{gE}{g11,g12}
\Nd{gF}{650}{538.5} \Br{gF}{gD,gE}
\Nd{gG}{617}{627.75} \Br{gG}{gF,g13,g14}
\Nd{gH}{578}{780} \Br{gH}{g15,g16}
\Nd{gI}{570}{735} \Br{gI}{gG,gH,g17}
\Nd{gJ}{427}{810} \Br{gJ}{gI,g18}
\Nd{gK}{395}{868.5} \Br{gK}{gJ,g19}
\Nd{gL}{205}{990.5} \Br{gL}{g20,g21}
\Nd{gM}{150}{929.5} \Br{gM}{gK,gL}
\Nd{gN}{275}{1075} \Br{gN}{g22,g23}
\Nd{gO}{265}{1201} \Br{gO}{g25,g26}
\Nd{gP}{288}{1286} \Br{gP}{g27,g28}
\Nd{gQ}{250}{1243.5} \Br{gQ}{gO,gP}
\Nd{gR}{228}{1190.75} \Br{gR}{g24,gQ}
\Nd{gS}{172}{1133} \Br{gS}{gN,gR}
\Nd{gT}{12}{1031} \Br{gT}{gM,gS}
\Nd{gU}{243}{1454} \Br{gU}{g31,g32}
\Nd{gV}{225}{1422.5} \Br{gV}{g30,gU}
\Nd{gW}{52}{1386} \Br{gW}{g29,gV}
\Nd{gr}{5}{1208} \Br{gr}{gT,gW}
\Bs{755}{175}{72} \Bs{720}{417}{99} \Bs{596}{650}{73} \Bs{545}{768}{99}
\Bs{368}{866}{100} \Bs{128}{920}{95} \Bs{185}{1010}{82} \Bs{250}{1060}{100}
\Bs{150}{1152}{97} \Bs{205}{1210}{84} \Bs{263}{1303}{87} \Bs{30}{1405}{70}
\Bs{205}{1440}{95}
\Sb{g}{103}{220}{1530}{160}{1557}{0.01 M}
\end{scope}
%%%%%%%%%%%%%%%%% H
\begin{scope}[shift={(489pt,-1800pt)},x=0.33333pt,y=-0.33333pt]
\PanelFonts{9.2}{7}
\node[plet] (hLet) at (135,188) {H};
\Lf{h1}{852}{183}{A/Chicken/Taizhou/TZJF05/2015(H9N2)}
\Lf{h2}{872}{228}{A/Shanghai/01/2014(H7N9)}
\Lf{h3}{820}{272}{A/Anhui/1/YK\_RG39/2013(H7N9)}
\Lf{h4}{885}{316}{A/Wild Chicken/Shanghai/C1/2014(H9N2)}
\Lf{h5}{855}{360}{A/Chicken/Taizhou/TZJF02/2015(H7N9)}
\Lf{h6}{878}{405}{A/Duck/Ganzhou/GZ188/2016(H9N2)}
\Lf{h7}{922}{450}{A/Chicken/ShanDong/413ZDM/2017(H9N2)}
\Lf{h8}{888}{494}{A/Chicken/Hubei/ZYSJF15/2016(H9N2)}
\Lf{h9}{867}{539}{A/Shanghai/JS01/2013(H7N9)}
\Lfc{h10}{770}{583}{Gs/JS/YZ527/11}
\Lf{h11}{658}{628}{A/Chicken/Shandong/11/2011(H9N2)}
\Lf{h12}{640}{672}{A/Chicken/Jiangsu/C4258/2012(H9N2)}
\Lf{h13}{638}{717}{A/Chicken/Shandong/sd01/2010(H9N2)}
\Lf{h14}{573}{762}{A/Chicken/Shandong/397/2010(H9N2)}
\Lf{h15}{577}{806}{A/Chicken/Shandong/BD/2010(H9N2)}
\Lfc{h16}{651}{851}{Gs/JS/SQ119/12}
\Lf{h17}{668}{895}{A/Chicken/Wenzhou/614/2013(H9N2)}
\Lf{h18}{668}{939}{A/Chicken/Jiangsu/DD6/2013(H9N2)}
\Lf{h19}{466}{984}{Ck/SH/F/98(H9N2)}
\Lfc{h20}{470}{1028}{Gs/JS/JD564/12}
\Lf{h21}{718}{1073}{A/Chicken/Guangxi/55/2005(H9N2)}
\Lf{h22}{600}{1117}{A/Wild Duck/Shantou/4808/01(H9N2)}
\Lf{h23}{308}{1162}{A/Chicken/Shandong/6/96(H9N2)}
\Lf{h24}{436}{1206}{A/Duck/Hong Kong/Y280/97(H9N2)}
\Lf{h25}{458}{1251}{A/Chicken/Hong Kong/G9/97(H9N2)}
\Lft{h26}{302}{1296}{A/Chicken/Beijing/1/1994(H9N2)}
\Lft{h27}{447}{1340}{A/Quail/Hong Kong/G1/97(H9N2)}
\Lft{h28}{835}{1385}{A/Quail/Hong Kong/AF157/92(H9N2)}
\Lft{h29}{582}{1429}{A/Duck/Hong Kong/289/78(H9N2)}
\Lft{h30}{927}{1474}{A/Duck/Hong Kong/Y439/1997(H9N2)}
\Nd{hA}{818}{249.5} \Br{hA}{h1,h2,h3,h4}
\Nd{hB}{802}{305} \Br{hB}{hA,h5}
\Nd{hC}{852}{472} \Br{hC}{h7,h8}
\Nd{hD}{830}{438.5} \Br{hD}{h6,hC}
\Nd{hE}{787}{372} \Br{hE}{hB,hD}
\Nd{hF}{758}{455.5} \Br{hF}{hE,h9}
\Nd{hG}{705}{519} \Br{hG}{hF,h10}
\Nd{hH}{567}{672.5} \Br{hH}{h11,h12,h13}
\Nd{hI}{632}{917} \Br{hI}{h17,h18}
\Nd{hJ}{595}{884} \Br{hJ}{h16,hI}
\Nd{hK}{557}{823} \Br{hK}{h14,h15,hJ}
\Nd{hL}{553}{748} \Br{hL}{hH,hK}
\Nd{hM}{490}{633.5} \Br{hM}{hG,hL}
\Nd{hN}{466}{1006} \Br{hN}{h19,h20}
\Nd{hO}{390}{820} \Br{hO}{hM,hN}
\Nd{hP}{542}{1095} \Br{hP}{h21,h22}
\Nd{hQ}{333}{957.5} \Br{hQ}{hO,hP}
\Nd{hR}{288}{1060} \Br{hR}{hQ,h23}
\Nd{hS}{348}{1228.5} \Br{hS}{h24,h25}
\Nd{hT}{275}{1144} \Br{hT}{hR,hS}
\Nd{hU}{258}{1220} \Br{hU}{hT,h26}
\Nd{hV}{520}{1451.5} \Br{hV}{h29,h30}
\Nd{hW}{405}{1418} \Br{hW}{h28,hV}
\Nd{hX}{128}{1379} \Br{hX}{h27,hW}
\Nd{hr}{70}{1299.5} \Br{hr}{hU,hX}
\Bs{793}{262}{82} \Bs{764}{364}{75} \Bs{735}{443}{78} \Bs{806}{458}{96}
\Bs{828}{492}{87} \Bs{678}{505}{100} \Bs{465}{617}{96} \Bs{530}{763}{98}
\Bs{368}{803}{85} \Bs{572}{903}{87} \Bs{610}{937}{97} \Bs{311}{942}{70}
\Bs{437}{1026}{100} \Bs{520}{1115}{99} \Bs{228}{1205}{100} \Bs{325}{1248}{98}
\Bs{378}{1437}{100} \Bs{497}{1470}{96}
\Sb{h}{178}{280}{1533}{228}{1557}{0.01 NS}
\end{scope}
\end{tikzpicture}
\end{document}
